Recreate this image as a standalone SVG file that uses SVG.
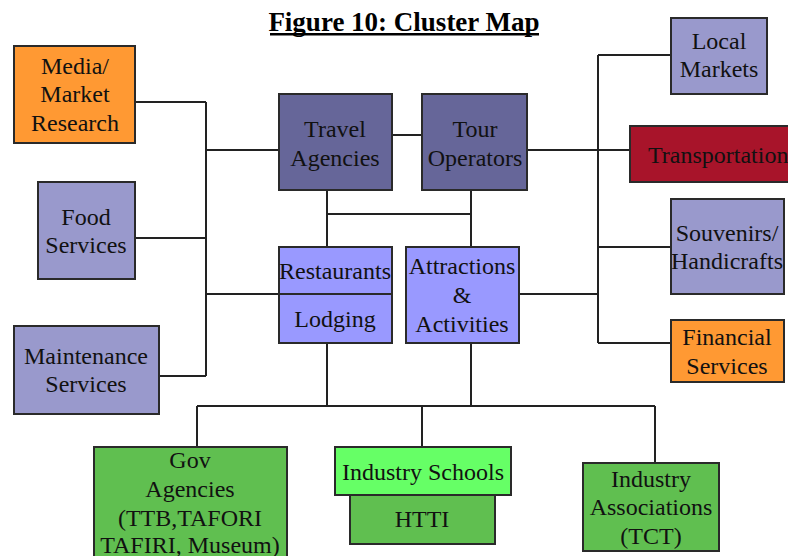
<svg xmlns="http://www.w3.org/2000/svg" width="788" height="556" viewBox="0 0 788 556">
<style>
.t{font-family:'Liberation Serif','Times New Roman',serif;font-size:24px;fill:#111;text-anchor:middle}
.title{font-family:'Liberation Serif','Times New Roman',serif;font-size:27px;font-weight:bold;fill:#000;text-anchor:middle}
.box{stroke:#2a2a2a;stroke-width:2}
.orange{fill:#FF9933}
.dark{fill:#666699}
.lav{fill:#9999CC}
.blue{fill:#9999FF}
.red{fill:#A8142A}
.green{fill:#60BF50}
.lgreen{fill:#66FF66}
#connectors{stroke:#222;stroke-width:2;fill:none}
</style>
<rect width="788" height="556" fill="#fff"/>
<text class="title" x="404" y="31">Figure 10: Cluster Map</text>
<rect x="270" y="33" width="269" height="2.5" fill="#000"/>

<g id="connectors">
<path d="M135 102H206M206 102V376M159 376H206M135 238H206M206 150H279M206 294H279"/>
<path d="M392 135H422M327 190V247M471 190V247M327 214H471"/>
<path d="M527 150H630M598 55V343M598 55H671M598 247H671M598 343H671M519 294H598"/>
<path d="M327 343V406M471 343V406M197 406H655M197 406V447M422 406V447M655 406V463"/>
</g>

<g id="media"><rect class="box orange" x="14" y="46" width="121" height="97"/>
<text class="t" x="75" y="74">Media/</text><text class="t" x="75" y="102">Market</text><text class="t" x="75" y="131">Research</text></g>

<g id="food"><rect class="box lav" x="38" y="182" width="97" height="97"/>
<text class="t" x="86" y="225">Food</text><text class="t" x="86" y="253">Services</text></g>

<g id="maintenance"><rect class="box lav" x="14" y="326" width="145" height="88"/>
<text class="t" x="86" y="364">Maintenance</text><text class="t" x="86" y="392">Services</text></g>

<g id="travel"><rect class="box dark" x="279" y="94" width="113" height="96"/>
<text class="t" x="335" y="137">Travel</text><text class="t" x="335" y="166">Agencies</text></g>

<g id="tour"><rect class="box dark" x="422" y="94" width="105" height="96"/>
<text class="t" x="475" y="137">Tour</text><text class="t" x="475" y="166">Operators</text></g>

<g id="restaurants"><rect class="box blue" x="279" y="247" width="113" height="96"/>
<line x1="279" y1="294" x2="392" y2="294" stroke="#2a2a2a" stroke-width="2"/>
<text class="t" x="335" y="279">Restaurants</text><text class="t" x="335" y="327">Lodging</text></g>

<g id="attractions"><rect class="box blue" x="406" y="247" width="113" height="96"/>
<text class="t" x="462" y="274">Attractions</text><text class="t" x="462" y="303">&amp;</text><text class="t" x="462" y="332">Activities</text></g>

<g id="local"><rect class="box lav" x="671" y="18" width="96" height="76"/>
<text class="t" x="719" y="49">Local</text><text class="t" x="719" y="77">Markets</text></g>

<g id="transportation"><rect class="box red" x="630" y="126" width="170" height="56"/>
<text class="t" x="648" y="163" style="text-anchor:start">Transportation</text></g>

<g id="souvenirs"><rect class="box lav" x="671" y="199" width="113" height="95"/>
<text class="t" x="727" y="241">Souvenirs/</text><text class="t" x="727" y="269">Handicrafts</text></g>

<g id="financial"><rect class="box orange" x="671" y="320" width="113" height="62"/>
<text class="t" x="727" y="345">Financial</text><text class="t" x="727" y="374">Services</text></g>

<g id="gov"><rect class="box green" x="94" y="447" width="193" height="120"/>
<text class="t" x="190" y="468">Gov</text><text class="t" x="190" y="497">Agencies</text><text class="t" x="190" y="526">(TTB,TAFORI</text><text class="t" x="190" y="553">TAFIRI, Museum)</text></g>

<g id="schools"><rect class="box green" x="350" y="495" width="145" height="49"/>
<text class="t" x="422" y="527">HTTI</text>
<rect class="box lgreen" x="335" y="447" width="176" height="48"/>
<text class="t" x="423" y="480">Industry Schools</text></g>

<g id="associations"><rect class="box green" x="583" y="463" width="136" height="88"/>
<text class="t" x="651" y="487">Industry</text><text class="t" x="651" y="515">Associations</text><text class="t" x="651" y="544">(TCT)</text></g>
</svg>
